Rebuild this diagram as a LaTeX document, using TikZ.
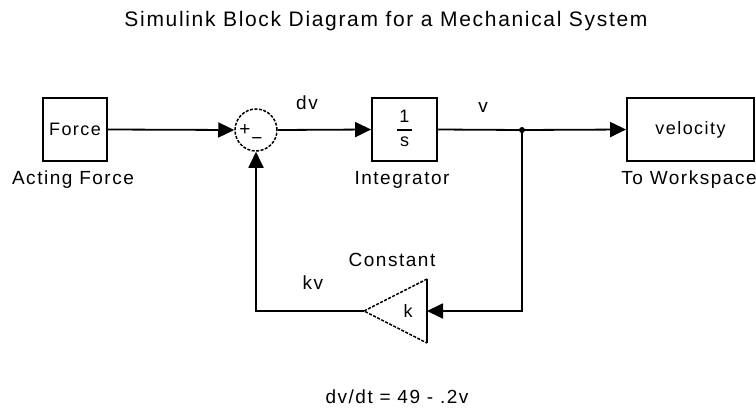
\documentclass[tikz,border=0pt]{standalone}
\usepackage{fontspec}
\setmainfont[LetterSpace=8]{Liberation Sans}
\usetikzlibrary{shapes.geometric, arrows.meta, positioning, calc}

\tikzset{
  blk/.style={draw, line width=1.8pt, inner sep=0pt, font=\fontsize{18}{20}\selectfont},
  wire/.style={line width=1.8pt},
  sig/.style={line width=1.8pt, -{Triangle[length=16pt,width=15pt]}},
  lbl/.style={font=\fontsize{19}{22}\selectfont},
  brk/.style={dash pattern=on 3pt off 1.5pt},
}

\begin{document}
\begin{tikzpicture}[x=1pt, y=-1pt]
                \useasboundingbox (0,0) rectangle (756,410);
                % Title
                \node[font=\fontsize{21}{24}\selectfont] (title) at (386,21) {Simulink Block Diagram for a Mechanical System};
                % Force source
                \node[blk, minimum width=64pt, minimum height=63pt] (force) at (75,129.5) {Force};
                \node[lbl] (forcelbl) at (73,180) {Acting Force};
                % Sum
                \node[draw, brk, circle, line width=1.5pt, minimum size=42pt, inner sep=0pt] (sum) at (256,130) {};
                \node[font=\fontsize{19}{19}\selectfont, inner sep=0pt] (plus) at (245,130) {+};
                \node[font=\fontsize{19}{19}\selectfont, inner sep=0pt] (minus) at (257,141) {\char"2212};
                \node[lbl] (dv) at (307,103) {dv};
                % Integrator
                \node[blk, minimum width=65pt, minimum height=63pt] (integ) at (404.5,129.5) {};
                \node[font=\fontsize{18}{18}\selectfont, inner sep=0pt] (one) at (404.5,116) {1};
                \node[font=\fontsize{18}{18}\selectfont, inner sep=0pt] (ess) at (404.5,142) {s};
                \draw[line width=1.5pt] (397,130) -- (412,130);
                \node[lbl] (integlbl) at (402,180) {Integrator};
                \node[lbl] (v) at (483,107) {v};
                \coordinate (branch) at (522,130);
                % To Workspace
                \node[blk, minimum width=127pt, minimum height=63pt] (ws) at (690.5,129.5) {velocity};
                \node[lbl] (wslbl) at (689,180) {To Workspace};
                % Gain
                \coordinate (gainin) at (427,311);
                \coordinate (gaintip) at (364,311);
                \draw[line width=1.5pt, brk] (427,279) -- (gaintip) -- (427,343);
                \draw[line width=1.8pt] (427,279) -- (427,343);
                \node[font=\fontsize{18}{18}\selectfont] (k) at (408,311) {k};
                \node[lbl] (gainlbl) at (392,260) {Constant};
                \node[lbl] (kv) at (313,283) {kv};
                % Signals
                \draw[sig] (force.east) -- (sum.west);
                \draw[sig] (sum.east) -- (integ.west);
                \draw[wire] (integ.east) -- (branch);
                \draw[sig] (branch) -- (ws.west);
                \draw[sig] (branch) |- (gainin);
                \draw[sig] (gaintip) -| (sum.south);
                \fill (branch) circle (3pt);
                % Equation
                \node[lbl] (eqn) at (397,397) {dv/dt = 49 - .2v};
\end{tikzpicture}
\end{document}
